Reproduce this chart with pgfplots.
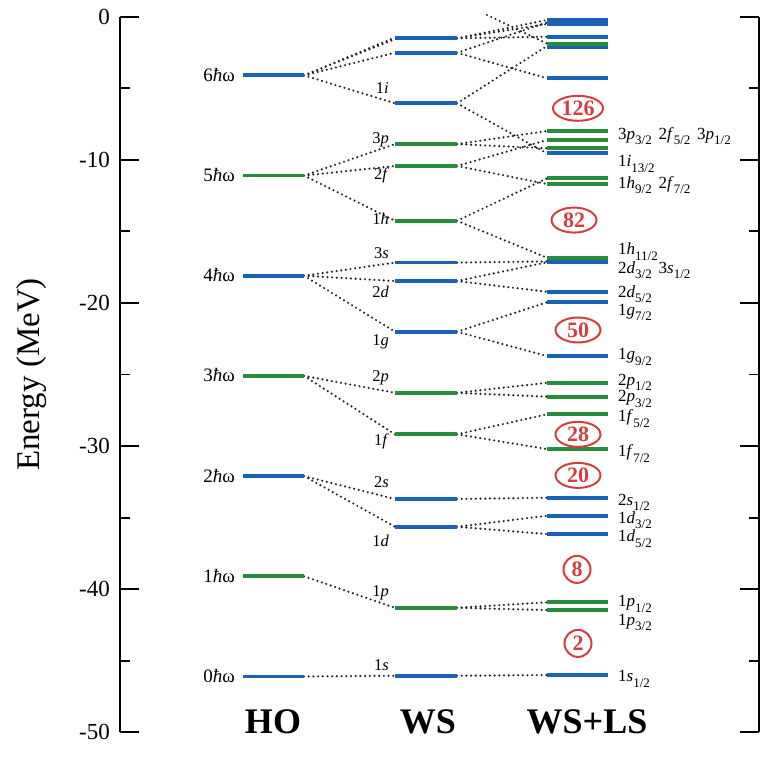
\documentclass[border=0pt]{standalone}
\usepackage{fontspec}
\setmainfont{Liberation Serif}
\usepackage{pgfplots}
\pgfplotsset{compat=1.18}
\usepackage{pgfplotstable}
\usetikzlibrary{shapes.geometric}
\definecolor{lvblue}{RGB}{28,98,180}
\definecolor{lvgreen}{RGB}{40,140,60}
\definecolor{magred}{RGB}{212,62,62}

\pgfplotstableread{
x y
243 -46.1
304 -46.1
nan nan
243 -32.1
304 -32.1
nan nan
243 -18.1
304 -18.1
nan nan
243 -4.1
304 -4.1
nan nan
395 -1.51
457 -1.51
nan nan
395 -2.52
457 -2.52
nan nan
395 -6.05
457 -6.05
nan nan
395 -17.18
457 -17.18
nan nan
395 -18.47
457 -18.47
nan nan
395 -22.01
457 -22.01
nan nan
395 -33.70
457 -33.70
nan nan
395 -35.64
457 -35.64
nan nan
395 -46.05
457 -46.05
nan nan
547 -0.23
608 -0.23
nan nan
547 -0.51
608 -0.51
nan nan
547 -1.40
608 -1.40
nan nan
547 -2.12
608 -2.12
nan nan
547 -4.30
608 -4.30
nan nan
547 -9.55
608 -9.55
nan nan
547 -17.16
608 -17.16
nan nan
547 -19.22
608 -19.22
nan nan
547 -19.96
608 -19.96
nan nan
547 -23.71
608 -23.71
nan nan
547 -33.61
608 -33.61
nan nan
547 -34.87
608 -34.87
nan nan
547 -36.15
608 -36.15
nan nan
547 -46.0
608 -46.0
}\bluelevels

\pgfplotstableread{
x y
243 -39.1
304 -39.1
nan nan
243 -25.1
304 -25.1
nan nan
243 -11.1
304 -11.1
nan nan
395 -41.3
457 -41.3
nan nan
395 -29.18
457 -29.18
nan nan
395 -26.28
457 -26.28
nan nan
395 -14.26
457 -14.26
nan nan
395 -10.43
457 -10.43
nan nan
395 -8.90
457 -8.90
nan nan
547 -1.88
608 -1.88
nan nan
547 -7.99
608 -7.99
nan nan
547 -8.62
608 -8.62
nan nan
547 -9.20
608 -9.20
nan nan
547 -11.29
608 -11.29
nan nan
547 -11.69
608 -11.69
nan nan
547 -16.84
608 -16.84
nan nan
547 -25.58
608 -25.58
nan nan
547 -26.55
608 -26.55
nan nan
547 -27.78
608 -27.78
nan nan
547 -30.21
608 -30.21
nan nan
547 -40.92
608 -40.92
nan nan
547 -41.46
608 -41.46
}\greenlevels

\pgfplotstableread{
x y
304 -4.1
395 -1.45
nan nan
304 -4.1
395 -1.57
nan nan
304 -4.1
395 -2.52
nan nan
304 -4.1
395 -6.05
nan nan
304 -11.1
395 -8.90
nan nan
304 -11.1
395 -10.43
nan nan
304 -11.1
395 -14.26
nan nan
304 -18.1
395 -17.18
nan nan
304 -18.1
395 -18.47
nan nan
304 -18.1
395 -22.01
nan nan
304 -25.1
395 -26.28
nan nan
304 -25.1
395 -29.18
nan nan
304 -32.1
395 -33.70
nan nan
304 -32.1
395 -35.64
nan nan
304 -39.1
395 -41.3
nan nan
304 -46.1
395 -46.05
nan nan
457 -1.51
547 -0.23
nan nan
457 -1.51
547 -0.51
nan nan
457 -1.51
547 -1.40
nan nan
457 -2.52
547 -0.40
nan nan
457 -2.52
547 -4.30
nan nan
457 -6.05
547 -2.05
nan nan
457 -6.05
547 -9.55
nan nan
487 0.12
547 -1.88
nan nan
457 -8.90
547 -7.99
nan nan
457 -8.90
547 -9.20
nan nan
457 -10.43
547 -8.62
nan nan
457 -10.43
547 -11.69
nan nan
457 -14.26
547 -11.29
nan nan
457 -14.26
547 -16.84
nan nan
457 -17.18
547 -17.10
nan nan
457 -18.47
547 -17.16
nan nan
457 -18.47
547 -19.22
nan nan
457 -22.01
547 -19.96
nan nan
457 -22.01
547 -23.71
nan nan
457 -26.28
547 -25.58
nan nan
457 -26.28
547 -26.55
nan nan
457 -29.18
547 -27.78
nan nan
457 -29.18
547 -30.21
nan nan
457 -33.70
547 -33.61
nan nan
457 -35.64
547 -34.87
nan nan
457 -35.64
547 -36.15
nan nan
457 -41.3
547 -40.92
nan nan
457 -41.3
547 -41.46
nan nan
457 -46.05
547 -46.0
}\links

\newcommand{\lab}[3]{#1\textit{#2}\raisebox{-0.32em}{\fontsize{13}{13}\selectfont #3}}

\begin{document}
\begin{tikzpicture}
\begin{axis}[
  at={(120pt,23.7pt)}, anchor=south west,
  scale only axis, width=639pt, height=715.6pt,
  xmin=120, xmax=759, ymin=-50, ymax=0,
  axis x line=none, axis y line=box,
  xtick=\empty,
  ytick={-50,-40,-30,-20,-10,0},
  yticklabels={-50,-40,-30,-20,-10,0},
  minor ytick={-45,-35,-25,-15,-5},
  tick align=inside, ytick pos=both, yticklabel pos=left,
  major tick length=19pt, minor tick length=10pt,
  tick style={black, line width=1.8pt},
  y axis line style={line width=1.8pt},
  yticklabel style={font=\fontsize{23}{23}\selectfont, inner sep=0pt, xshift=-10pt},
  clip=false,
  unbounded coords=jump,
]
\addplot[black!85, line width=2.4pt, dash pattern=on 0pt off 4.7pt, line cap=round] table[x=x,y=y] {\links};
\addplot[lvblue, line width=3.8pt] table[x=x,y=y] {\bluelevels};
\addplot[lvgreen, line width=3.8pt] table[x=x,y=y] {\greenlevels};

% HO labels
\begin{scope}[every node/.style={anchor=base east, inner sep=0pt, font=\fontsize{19}{19}\selectfont}]
\node at (axis cs:235,-4.52) {6\textit{ħ}ω};
\node at (axis cs:235,-11.52) {5\textit{ħ}ω};
\node at (axis cs:235,-18.52) {4\textit{ħ}ω};
\node at (axis cs:235,-25.52) {3\textit{ħ}ω};
\node at (axis cs:235,-32.52) {2\textit{ħ}ω};
\node at (axis cs:235,-39.52) {1\textit{ħ}ω};
\node at (axis cs:235,-46.52) {0\textit{ħ}ω};
\end{scope}

% WS labels
\begin{scope}[every node/.style={anchor=base east, inner sep=0pt, font=\fontsize{16.5}{16.5}\selectfont}]
\node at (axis cs:389,-5.35) {1\textit{i}};
\node at (axis cs:389,-8.85) {3\textit{p}};
\node at (axis cs:389,-11.41) {2\textit{f}};
\node at (axis cs:389,-14.49) {1\textit{h}};
\node at (axis cs:389,-16.93) {3\textit{s}};
\node at (axis cs:389,-19.64) {2\textit{d}};
\node at (axis cs:389,-22.94) {1\textit{g}};
\node at (axis cs:389,-25.51) {2\textit{p}};
\node at (axis cs:389,-29.93) {1\textit{f}};
\node at (axis cs:389,-32.87) {2\textit{s}};
\node at (axis cs:389,-37.04) {1\textit{d}};
\node at (axis cs:389,-40.53) {1\textit{p}};
\node at (axis cs:389,-45.70) {1\textit{s}};
\end{scope}

% WS+LS labels
\begin{scope}[every node/.style={anchor=base west, inner sep=0pt, font=\fontsize{17}{17}\selectfont}]
\node at (axis cs:618,-8.55) {\lab{3}{p}{3/2}\hspace{0.4em}\lab{2}{f}{5/2}\hspace{0.4em}\lab{3}{p}{1/2}};
\node at (axis cs:618,-10.48) {\lab{1}{i}{13/2}};
\node at (axis cs:618,-11.97) {\lab{1}{h}{9/2}\hspace{0.4em}\lab{2}{f}{7/2}};
\node at (axis cs:618,-16.65) {\lab{1}{h}{11/2}};
\node at (axis cs:618,-17.91) {\lab{2}{d}{3/2}\hspace{0.4em}\lab{3}{s}{1/2}};
\node at (axis cs:618,-19.59) {\lab{2}{d}{5/2}};
\node at (axis cs:618,-20.85) {\lab{1}{g}{7/2}};
\node at (axis cs:618,-23.96) {\lab{1}{g}{9/2}};
\node at (axis cs:618,-25.74) {\lab{2}{p}{1/2}};
\node at (axis cs:618,-26.90) {\lab{2}{p}{3/2}};
\node at (axis cs:618,-28.30) {\lab{1}{f}{5/2}};
\node at (axis cs:618,-30.75) {\lab{1}{f}{7/2}};
\node at (axis cs:618,-34.12) {\lab{2}{s}{1/2}};
\node at (axis cs:618,-35.40) {\lab{1}{d}{3/2}};
\node at (axis cs:618,-36.69) {\lab{1}{d}{5/2}};
\node at (axis cs:618,-41.23) {\lab{1}{p}{1/2}};
\node at (axis cs:618,-42.51) {\lab{1}{p}{3/2}};
\node at (axis cs:618,-46.47) {\lab{1}{s}{1/2}};
\end{scope}

% magic numbers
\begin{scope}[every node/.style={ellipse, draw=magred, line width=2pt, text=magred, inner sep=0pt, minimum height=25pt, font=\fontsize{22}{22}\bfseries\selectfont}]
\node[minimum width=50pt] at (axis cs:578,-6.40) {126};
\node[minimum width=45pt] at (axis cs:574,-14.21) {82};
\node[minimum width=45pt] at (axis cs:578,-21.89) {50};
\node[minimum width=45pt] at (axis cs:578,-29.18) {28};
\node[minimum width=45pt] at (axis cs:578,-32.05) {20};
\node[minimum width=27pt, minimum height=27pt] at (axis cs:577,-38.62) {8};
\node[minimum width=27pt, minimum height=27pt] at (axis cs:578,-43.79) {2};
\end{scope}

% column titles
\begin{scope}[every node/.style={anchor=base, inner sep=0pt, font=\fontsize{36}{36}\bfseries\selectfont}]
\node at (axis cs:273,-50.06) {HO};
\node at (axis cs:428,-50.06) {WS};
\node at (axis cs:587,-50.06) {WS+LS};
\end{scope}

\node[rotate=90, inner sep=0pt, font=\fontsize{33}{33}\selectfont] at (axis cs:31.5,-25) {Energy (MeV)};
\end{axis}
\pgfresetboundingbox
\path[use as bounding box] (0,0) rectangle (769pt,756pt);
\end{tikzpicture}
\end{document}
